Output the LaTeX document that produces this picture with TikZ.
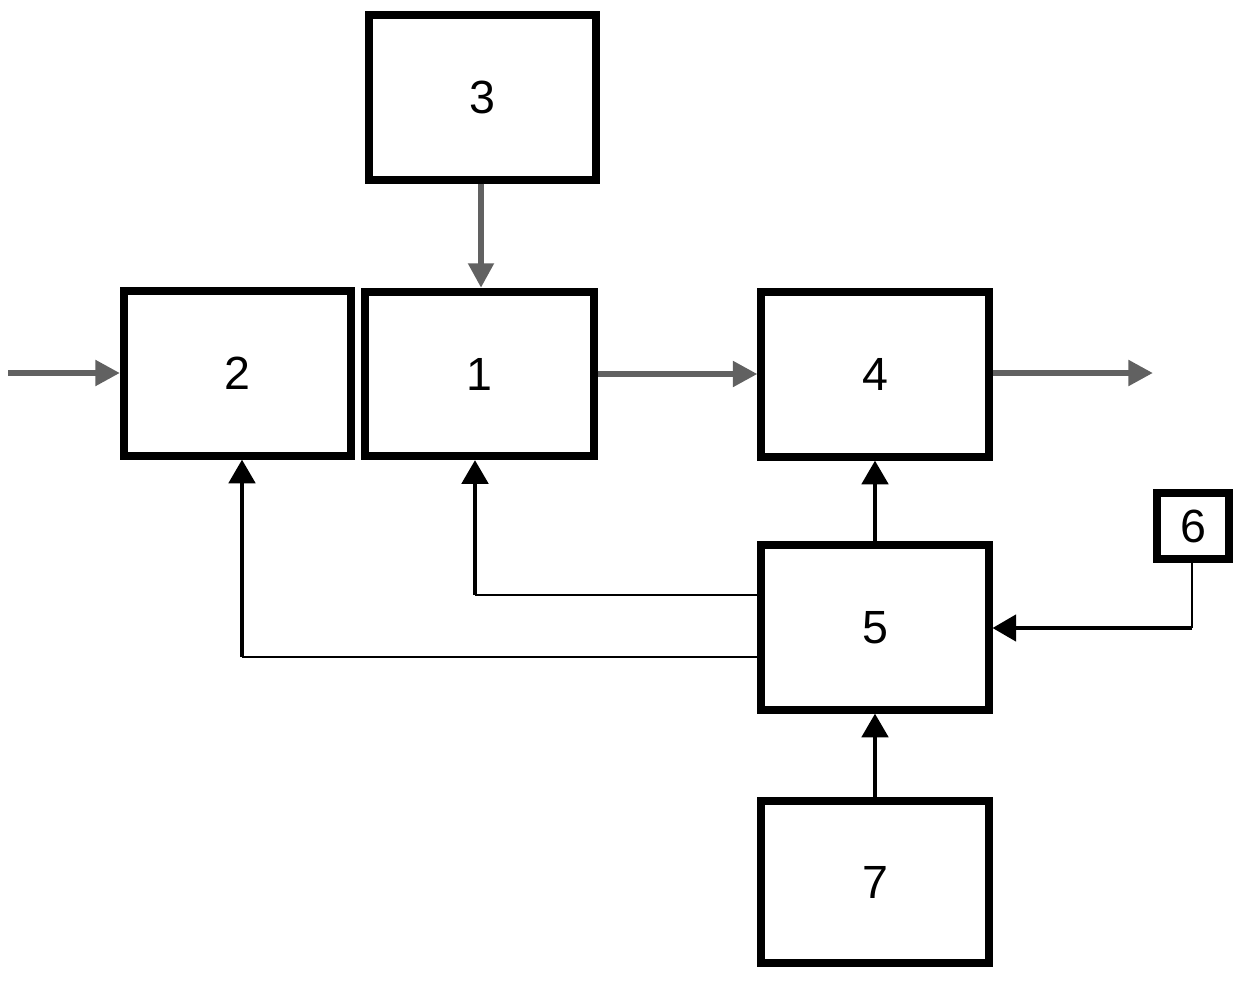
\documentclass[tikz,border=0pt]{standalone}
\usepackage{fontspec}
\setmainfont{Liberation Sans}
\usetikzlibrary{arrows.meta}
\begin{document}
\begin{tikzpicture}[x=0.02cm,y=-0.02cm,
  blk/.style={draw=black,line width=4.5pt,rectangle,minimum width=228*0.567pt,minimum height=165*0.567pt,inner sep=0pt,font=\fontsize{26.5}{30}\selectfont},
  graya/.style={draw=black!62,line width=3.6pt,-{Triangle[length=14pt,width=14pt]}},
  blka/.style={draw=black,line width=2.3pt,-{Triangle[length=13.5pt,width=15pt]}},
  thinl/.style={draw=black,line width=1.1pt}]
\useasboundingbox (0,0) rectangle (1242,981);
\node[blk] (n3) at (482.5,97.5) {3};
\node[blk] (n2) at (237.5,373.5) {2};
\node[blk,minimum width=229*0.567pt] (n1) at (479.5,374) {1};
\node[blk] (n4) at (875,374.5) {4};
\node[blk] (n5) at (875,627.5) {5};
\node[blk,minimum width=72*0.567pt,minimum height=66*0.567pt] (n6) at (1193,526) {6};
\node[blk,minimum height=162*0.567pt] (n7) at (875,882) {7};
\coordinate (in) at (8,373);
\coordinate (out) at (1153,373);
\coordinate (c51) at (475,595);
\coordinate (c52) at (242,657);
\coordinate (c65) at (1192,628);
\draw[graya] (in) -- (in -| n2.west);
\draw[graya] (n3.south -| 481,0) -- (n1.north -| 481,0);
\draw[graya] (n1.east) -- (n1.east -| n4.west);
\draw[graya] (n4.east |- out) -- (out);
\draw[blka] (n5.north) -- (n5.north |- n4.south);
\draw[blka] (n7.north) -- (n7.north |- n5.south);
\draw[thinl] (n5.west |- c51) -- (c51);
\draw[blka] (c51) -- (c51 |- n1.south);
\draw[thinl] (n5.west |- c52) -- (c52);
\draw[blka] (c52) -- (c52 |- n2.south);
\draw[thinl] (n6.south -| c65) -- (c65);
\draw[blka] (c65) -- (c65 -| n5.east);
\end{tikzpicture}
\end{document}
